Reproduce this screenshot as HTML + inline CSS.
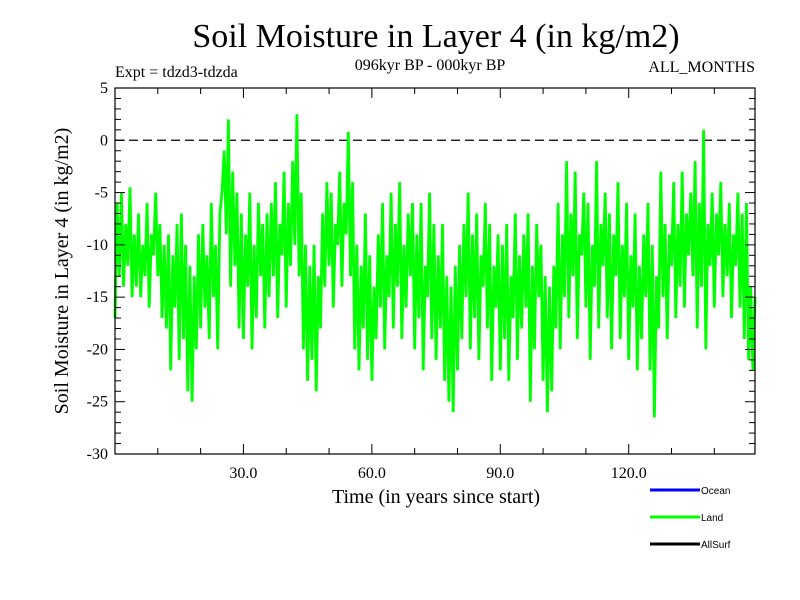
<!DOCTYPE html>
<html><head><meta charset="utf-8"><style>
body{margin:0;background:#fff;}
svg{display:block;font-family:"Liberation Serif",serif;}
</style></head><body>
<svg id="chart" width="800" height="600" viewBox="0 0 800 600">
<rect width="800" height="600" fill="#fff"/>
<text x="436" y="47" font-size="34" text-anchor="middle">Soil Moisture in Layer 4 (in kg/m2)</text>
<text x="115" y="77" font-size="16">Expt = tdzd3-tdzda</text>
<text x="430" y="70" font-size="16" text-anchor="middle">096kyr BP - 000kyr BP</text>
<text x="755" y="72" font-size="16" text-anchor="end">ALL_MONTHS</text>
<text transform="translate(68,271) rotate(-90)" font-size="20" text-anchor="middle">Soil Moisture in Layer 4 (in kg/m2)</text>
<text x="436" y="503" font-size="20" text-anchor="middle">Time (in years since start)</text>
<g id="plot"></g>
<g id="legend" font-family="Liberation Sans, sans-serif" font-size="10">
<line x1="650" y1="490" x2="700" y2="490" stroke="#0000ff" stroke-width="3"/>
<text x="701" y="494">Ocean</text>
<line x1="650" y1="517" x2="700" y2="517" stroke="#00ff00" stroke-width="3"/>
<text x="701" y="521">Land</text>
<line x1="650" y1="544" x2="700" y2="544" stroke="#000" stroke-width="3"/>
<text x="701" y="548">AllSurf</text>
</g>
</svg>
<script>
const xStart = 0, xStep = 0.5;
const landValues = [
-17,-6,-13,-5,-14,-8,-12,-4.5,-15,-9,
-14,-7,-15,-10,-13,-6,-16,-9,-11,-5,
-13,-8,-17,-10,-18,-9,-22,-11,-16,-8,
-21,-7,-19,-10,-24,-12,-25,-13,-20,-9,
-18,-8,-16,-11,-19,-6,-15,-10,-20,-7,
-5,-1,-9,2,-14,-3,-12,-5,-18,-7,
-19,-9,-14,-5,-20,-10,-17,-6,-13,-8,
-18,-7,-15,-6,-13,-4,-17,-8,-11,-3,
-16,-6,-12,-2,-10,2.5,-13,-5,-20,-10,
-23,-12,-21,-10,-24,-13,-18,-7,-14,-4,
-12,-5,-16,-8,-10,-3,-14,-6,-9,0.8,
-13,-4,-20,-10,-22,-12,-18,-7,-21,-11,
-23,-14,-19,-9,-16,-6,-20,-11,-15,-5,
-18,-8,-14,-4,-19,-10,-16,-7,-13,-6,
-20,-9,-17,-6,-22,-12,-15,-5,-19,-8,
-21,-11,-18,-8,-23,-13,-25,-14,-26,-12,
-22,-10,-19,-8,-15,-5,-20,-9,-17,-7,
-21,-11,-14,-6,-18,-8,-23,-12,-16,-9,
-22,-10,-19,-8,-23,-13,-17,-7,-21,-11,
-18,-9,-16,-7,-25,-12,-20,-8,-15,-10,
-23,-13,-26,-14,-24,-12,-18,-6,-20,-9,
-15,-2,-17,-7,-13,-3,-19,-9,-11,-5,
-16,-6,-21,-10,-14,-2,-18,-8,-12,-5,
-17,-7,-20,-9,-13,-4,-19,-10,-15,-6,
-21,-11,-16,-7,-22,-12,-19,-9,-15,-6,
-22,-10,-26.5,-13,-18,-3,-15,-8,-19,-9,
-12,-4,-17,-8,-14,-3,-16,-7,-11,-5,
-13,-2,-18,-6,-14,1,-20,-8,-12,-5,
-16,-7,-11,-4,-15,-8,-13,-6,-17,-9,
-12,-5,-16,-7,-19,-6,-21,-14,-22,-15];
const xTickLabels = ["30.0","60.0","90.0","120.0"];
const xTickValues = [30,60,90,120];
const yTickValues = [5,0,-5,-10,-15,-20,-25,-30];
const yTickLabels = ["5","0","-5","-10","-15","-20","-25","-30"];

const L=115,R=755,T=88,B=454, X0=0, X1=149.5, Y0=-30, Y1=5;
const sx=v=>L+(v-X0)/(X1-X0)*(R-L);
const sy=v=>B-(v-Y0)/(Y1-Y0)*(B-T);
const NS='http://www.w3.org/2000/svg';
const g=document.getElementById('plot');
function mk(t,a){const e=document.createElementNS(NS,t);for(const k in a)e.setAttribute(k,a[k]);g.appendChild(e);return e;}

let z=mk('line',{x1:L,x2:R,y1:sy(0),y2:sy(0),stroke:'#000','stroke-width':1.2,'stroke-dasharray':'9,5'});



const pts=landValues.map((v,i)=>sx(xStart+i*xStep).toFixed(1)+','+sy(v).toFixed(1)).join(' ');
let pl=mk('polyline',{points:pts,fill:'none',stroke:'#00ff00','stroke-width':2.8,'stroke-linejoin':'miter'});



let fr=mk('rect',{x:L,y:T,width:R-L,height:B-T,fill:'none',stroke:'#000','stroke-width':1.2});



for(let v=10;v<X1;v+=10){
  const major=v%30===0, len=major?10:6, x=sx(v);
  let t1=mk('line',{x1:x,x2:x,y1:B,y2:B-len,stroke:'#000'});
  
  
  let t2=mk('line',{x1:x,x2:x,y1:T,y2:T+len,stroke:'#000'});
  
  
}
xTickValues.forEach((v,i)=>{
  let t=mk('text',{x:sx(v),y:B+24,'font-size':16,'text-anchor':'middle'});
  t.textContent=xTickLabels[i];
  
  
});
for(let v=Y0;v<=Y1;v+=1){
  const major=v%5===0, len=major?10:6, y=sy(v);
  let t1=mk('line',{x1:L,x2:L+len,y1:y,y2:y,stroke:'#000'});
  
  
  let t2=mk('line',{x1:R,x2:R-len,y1:y,y2:y,stroke:'#000'});
  
  
}
yTickValues.forEach((v,i)=>{
  let t=mk('text',{x:L-7,y:sy(v)+5,'font-size':16,'text-anchor':'end'});
  t.textContent=yTickLabels[i];
  
  
});
</script>
</body></html>
